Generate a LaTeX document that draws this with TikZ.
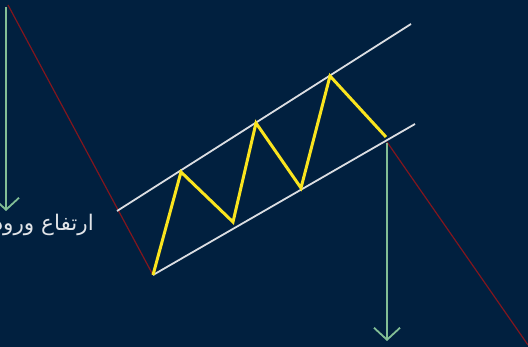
\documentclass[tikz,border=0pt]{standalone}
\usepackage{fontspec}
\TeXXeTstate=1
\newfontfamily\arabicfont[Script=Arabic]{DejaVu Sans}
\usetikzlibrary{arrows.meta}
\definecolor{bg}{RGB}{1,32,63}
\definecolor{trendred}{RGB}{130,22,30}
\definecolor{chanwhite}{RGB}{220,222,226}
\definecolor{zigyellow}{RGB}{250,228,30}
\definecolor{arrgreen}{RGB}{130,190,150}
\definecolor{txtgray}{RGB}{225,228,232}
\tikzset{
  trend/.style={draw=trendred, line width=1.2pt},
  chan/.style={draw=chanwhite, line width=1.8pt},
  zig/.style={draw=zigyellow, line width=3pt, line join=miter},
  measure/.style={draw=arrgreen, line width=1.8pt, -{Straight Barb[length=12pt,width=26pt,line width=1.8pt]}},
  lbl/.style={text=txtgray, font=\arabicfont\fontsize{21.5}{24}\selectfont, inner sep=0pt}
}
\begin{document}
\begin{tikzpicture}[x=1pt,y=-1pt]
\fill[bg] (0,0) rectangle (528,347);
\useasboundingbox (0,0) rectangle (528,347);
\clip (0,0) rectangle (528,347);
% coordinates
\coordinate (rtop) at (8,5);
\coordinate (ucL) at (117,211);
\coordinate (ucR) at (411,24);
\coordinate (p0) at (153,275);
\coordinate (p1) at (181,172);
\coordinate (p2) at (233,222);
\coordinate (p3) at (256,123);
\coordinate (p4) at (301,188);
\coordinate (p5) at (330,76);
\coordinate (p6) at (386,137);
\coordinate (lcR) at (415,124);
\coordinate (brk) at (387,142);
\coordinate (rend) at (528,345);
\coordinate (ga) at (6,7);
\coordinate (gb) at (6,211);
\coordinate (gc) at (387,143);
\coordinate (gd) at (387,341);
% trend lines
\draw[trend] (rtop) -- (p0);
\draw[trend] (brk) -- (rend);
% channel
\draw[chan] (ucL) -- (ucR);
\draw[chan] (p0) -- (lcR);
% zigzag
\draw[zig] (p0) -- (p1) -- (p2) -- (p3) -- (p4) -- (p5) -- (p6);
% measure arrows
\draw[measure] (ga) -- (gb);
\draw[measure] (gc) -- (gd);
% label
\node[lbl, anchor=base east] (lab) at (94,231) {\beginR ارتفاع ورود\endR};
\end{tikzpicture}
\end{document}
